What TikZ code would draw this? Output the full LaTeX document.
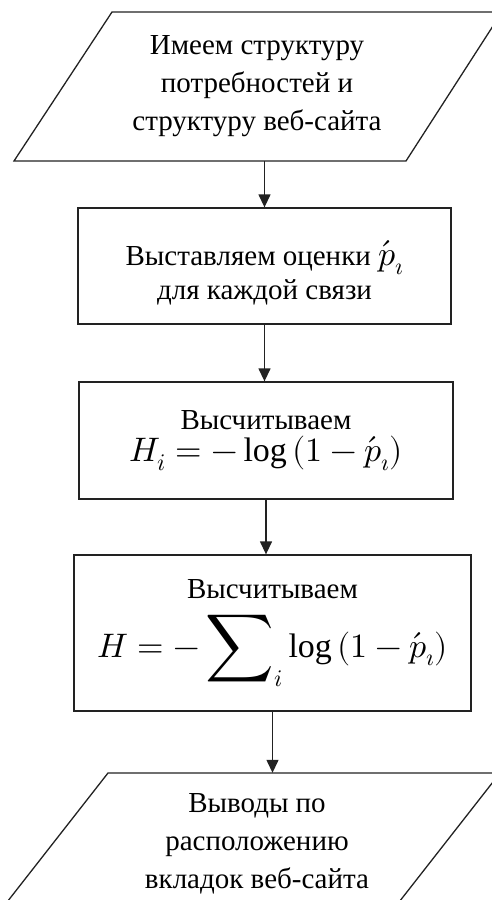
\documentclass[tikz,border=0pt]{standalone}
\usepackage{amsmath}
\usepackage{fontspec}
\usepackage{unicode-math}
\setmainfont{Liberation Serif}
\setmathfont{Latin Modern Math}
\usepackage{graphicx}
\usetikzlibrary{arrows.meta}

\begin{document}
\begin{tikzpicture}[
    x=1pt, y=-1pt,
    every node/.style={font=\fontsize{29}{38}\selectfont, align=center, inner sep=0pt},
]

\definecolor{linecolor}{HTML}{222222}   % outlines and arrows

\tikzset{
    frame/.style={draw=linecolor, line width=1.3pt},
    flowarrow/.style={-{Triangle[length=13pt, width=12pt]}, draw=linecolor, line width=1.3pt},
}

\def\mathsize{\fontsize{34}{40}\selectfont}

\useasboundingbox (0,0) rectangle (492,900);
\clip (0,0) rectangle (492,900);

% ================================================================
%   input parallelogram   top    y 12 .. 161
%   three steps           boxes  y 208 .. 711
%   output parallelogram  bottom y 773 .. (runs off the page)
% ================================================================

% ---------------------------------------------------------------- input
\draw[frame] (112,12) -- (502,12) -- (406,161) -- (14,161) -- cycle;
\node[minimum height=149pt] (given) at (257,86.5)
    {Имеем структуру\\ потребностей и\\ структуру веб-сайта};

% ---------------------------------------------------------------- steps
\node[frame, minimum width=373pt, minimum height=116pt] (rate) at (264.5,266) {};
\node (rate-text) at ([yshift=-7pt]rate.center)
    {Выставляем оценки {\mathsize$\acute{p}_{\imath}$}\\[-4pt] для каждой связи};

\node[frame, minimum width=374pt, minimum height=117pt] (hone) at (266,440.5)
    {Высчитываем\\[-6pt]
     {\mathsize$H_i = -\log\,(1-\acute{p}_{\imath})$}};

\node[frame, minimum width=397pt, minimum height=156pt] (hsum) at (272.5,633)
    {Высчитываем\\[16pt]
     {\mathsize$H = -\mathop{\vcenter{\hbox{\scalebox{1.4}{$\displaystyle\sum$}}}}\nolimits_{i}
      \log\,(1-\acute{p}_{\imath})$}};

% ---------------------------------------------------------------- output
\draw[frame] (108,773) -- (500,773) -- (385,920) -- (-7,920) -- cycle;
\node[minimum height=142pt] (result) at (257,844)
    {Выводы по\\ расположению\\ вкладок веб-сайта};

% ---------------------------------------------------------------- arrows
\draw[flowarrow] (given.south -| rate.north) -- (rate.north);
\draw[flowarrow] (rate.south) -- (rate.south |- hone.north);
\draw[flowarrow] (hone.south) -- (hone.south |- hsum.north);
\draw[flowarrow] (hsum.south) -- (hsum.south |- result.north);

\end{tikzpicture}
\end{document}
